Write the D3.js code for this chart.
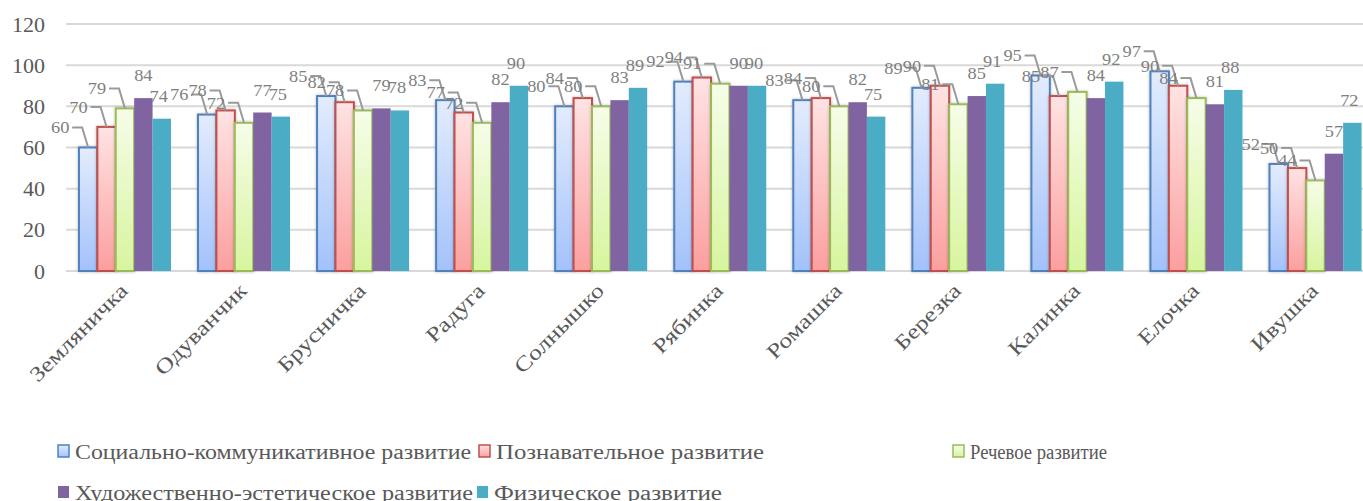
<!DOCTYPE html>
<html>
<head>
<meta charset="utf-8">
<script src="https://cdn.jsdelivr.net/npm/d3@7"></script>
<style>
  body { margin: 0; background: #fff; }
</style>
</head>
<body>
<div id="viz"></div>
<script>
const groups = ["Земляничка", "Одуванчик", "Брусничка", "Радуга", "Солнышко", "Рябинка",
  "Ромашка", "Березка", "Калинка", "Елочка", "Ивушка"];
const seriesNames = ["Социально-коммуникативное развитие", "Познавательное развитие",
  "Речевое развитие", "Художественно-эстетическое развитие", "Физическое развитие"];
const social = [60, 76, 85, 83, 80, 92, 83, 89, 95, 97, 52];
const cognitive = [70, 78, 82, 77, 84, 94, 84, 90, 85, 90, 50];
const speech = [79, 72, 78, 72, 80, 91, 80, 81, 87, 84, 44];
const artistic = [84, 77, 79, 82, 83, 90, 82, 85, 84, 81, 57];
const physical = [74, 75, 78, 90, 89, 90, 75, 91, 92, 88, 72];
const yTicks = [0, 20, 40, 60, 80, 100, 120];

const values = [social, cognitive, speech, artistic, physical];
const FONT = "'Liberation Serif', 'Times New Roman', serif";
const COLORS = {
  stroke: ["#4f81bd", "#c0504d", "#9bbb59", "#8064a2", "#4bacc6"],
  top: ["#e3ecfd", "#ffe3e3", "#f6fde9"],
  bottom: ["#a3c2fb", "#fb9f9f", "#d7f59e"],
  grid: "#d9d9d9",
  text: "#595959",
  label: "#7f7f7f",
  leader: "#9a9a9a"
};

const width = 1363, height = 501;
const svg = d3.select("#viz").append("svg")
  .attr("width", width).attr("height", height)
  .style("font-family", FONT);

const defs = svg.append("defs");
[0, 1, 2].forEach(i => {
  const g = defs.append("linearGradient").attr("id", "grad" + i)
    .attr("x1", 0).attr("y1", 0).attr("x2", 0).attr("y2", 1);
  g.append("stop").attr("offset", "0%").attr("stop-color", COLORS.top[i]);
  g.append("stop").attr("offset", "100%").attr("stop-color", COLORS.bottom[i]);
});
const shadow = defs.append("filter").attr("id", "shadow")
  .attr("x", "-30%").attr("y", "-10%").attr("width", "160%").attr("height", "120%");
shadow.append("feDropShadow").attr("dx", 0).attr("dy", 0).attr("stdDeviation", 1.6)
  .attr("flood-color", "#000").attr("flood-opacity", 0.28);

// Word renders the serif font wider than Liberation Serif, so widen the text a bit
function stretch(sel, factor) {
  sel.each(function () {
    const w = this.getComputedTextLength();
    d3.select(this).attr("textLength", w * factor).attr("lengthAdjust", "spacingAndGlyphs");
  });
}

const x = d3.scaleBand().domain(groups).range([65.5, 1375]).paddingInner(0.227).paddingOuter(0.113);
const xs = d3.scaleBand().domain(d3.range(5)).range([0, x.bandwidth()]).padding(0);
const y = d3.scaleLinear().domain([0, 120]).range([271, 24]);

// gridlines
svg.append("g").selectAll("line").data(yTicks).join("line")
  .attr("x1", 66).attr("x2", width)
  .attr("y1", d => y(d)).attr("y2", d => y(d))
  .attr("stroke", COLORS.grid).attr("stroke-width", 2);

// y axis labels
const yAxis = svg.append("g").attr("transform", "translate(45,0)")
  .call(d3.axisLeft(y).tickValues(yTicks).tickSize(0).tickPadding(0));
yAxis.attr("font-family", null).style("font-family", FONT);
yAxis.select(".domain").remove();
yAxis.selectAll("text")
  .style("font-family", FONT).attr("font-size", 22).attr("fill", COLORS.text);

// bars
const barG = svg.append("g");
groups.forEach((grp, gi) => {
  values.forEach((arr, si) => {
    const v = arr[gi];
    const r = barG.append("rect")
      .attr("x", x(grp) + xs(si)).attr("y", y(v))
      .attr("width", xs.bandwidth()).attr("height", y(0) - y(v));
    if (si < 3) {
      r.attr("fill", `url(#grad${si})`).attr("stroke", COLORS.stroke[si])
        .attr("stroke-width", 2).attr("filter", "url(#shadow)");
    } else {
      r.attr("fill", COLORS.stroke[si]);
    }
  });
});

// data labels, with leader lines for the first three series
const lbl = svg.append("g");
groups.forEach((grp, gi) => {
  values.forEach((arr, si) => {
    const v = arr[gi];
    const cx = x(grp) + xs(si) + xs.bandwidth() / 2;
    const top = y(v);
    let t;
    if (si < 3) {
      const lx = cx - 28, ly = top - 20;
      lbl.append("path")
        .attr("d", `M${lx + 12},${ly} H${cx - 6} L${cx},${top}`)
        .attr("fill", "none").attr("stroke", COLORS.leader).attr("stroke-width", 2);
      t = lbl.append("text").attr("x", lx).attr("y", ly).attr("dy", "0.34em");
    } else {
      t = lbl.append("text").attr("x", cx - (si === 4 ? 3 : 0)).attr("y", top - 17);
    }
    t.attr("text-anchor", "middle").style("font-family", FONT).attr("font-size", 17)
      .attr("fill", COLORS.label).text(v);
  });
});
stretch(lbl.selectAll("text"), 1.08);

// x labels
const xl = svg.append("g").selectAll("text").data(groups).join("text")
  .attr("transform", d => `translate(${x(d) + x.bandwidth() / 2 + 4},${292}) rotate(-45)`)
  .attr("text-anchor", "end")
  .style("font-family", FONT).attr("font-size", 21).attr("fill", COLORS.text)
  .text(d => d);
stretch(xl, 1.22);

// legend
const legendPos = [[58, 459], [479, 459], [953, 459], [58, 500], [477, 500]];
const legendWidths = [396, 268, 137, 398, 228];
const leg = svg.append("g");
seriesNames.forEach((name, i) => {
  const [lx, ly] = legendPos[i];
  const m = leg.append("rect").attr("x", lx).attr("y", ly - 14).attr("width", 11).attr("height", 12);
  if (i < 3) m.attr("fill", `url(#grad${i})`).attr("stroke", COLORS.stroke[i]).attr("stroke-width", 1.5);
  else m.attr("fill", COLORS.stroke[i]);
  leg.append("text").attr("x", lx + 17).attr("y", ly)
    .style("font-family", FONT).attr("font-size", 20).attr("fill", COLORS.text)
    .attr("textLength", legendWidths[i]).attr("lengthAdjust", "spacingAndGlyphs")
    .text(name);
});
</script>
</body>
</html>
